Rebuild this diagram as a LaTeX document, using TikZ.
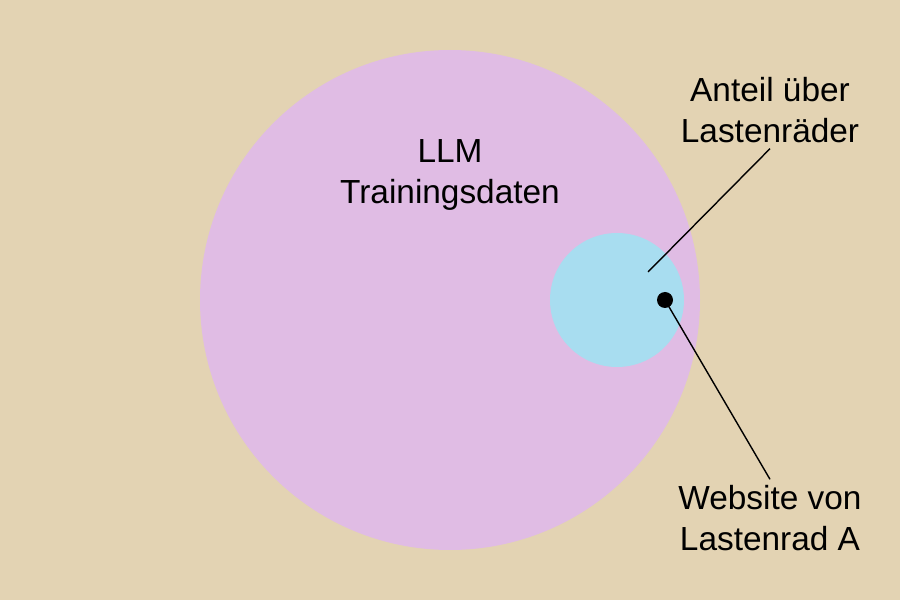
\documentclass[tikz,border=0pt]{standalone}
\usepackage{fontspec}
\setmainfont{Liberation Sans}
\definecolor{bg}{HTML}{E3D3B3}
\definecolor{llm}{HTML}{E0BCE4}
\definecolor{part}{HTML}{A8DDF0}
\begin{document}
\begin{tikzpicture}[label/.style = {align=center,font=\fontsize{19}{23}\selectfont}]
                        \fill[bg] (0,0) rectangle (18,12);
                        \useasboundingbox (0,0) rectangle (18,12);

                        \fill[llm] (9,6) circle (5);
                        \fill[part] (12.34,6) circle (1.34);
                        \fill (13.3,6) circle (0.16);
                        \coordinate (site) at (13.3,6);
                        \coordinate (share) at (12.96,6.56);

                        \node[label] (llmtext) at (9,8.5) {LLM\\Trainingsdaten};
                        \node[label] (sharetext) at (15.4,9.8) {Anteil über\\Lastenräder};
                        \node[label] (sitetext) at (15.4,1.64) {Website von\\Lastenrad A};

                        \draw[thick] (share) -- (sharetext.south);
                        \draw[thick] (site) -- (sitetext.north);
                    \end{tikzpicture}
\end{document}
